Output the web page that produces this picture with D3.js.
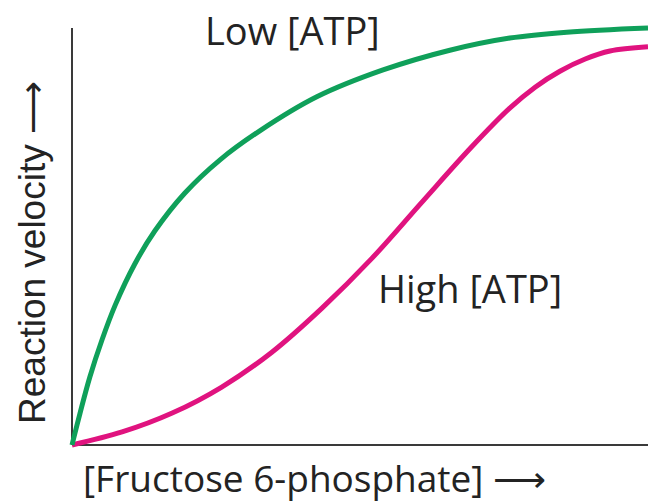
<!DOCTYPE html>
<html><head><meta charset="utf-8">
<script src="https://cdn.jsdelivr.net/npm/d3@7"></script>
<style>html,body{margin:0;padding:0;background:#fff;} svg{display:block;}</style>
</head><body>
<svg id="c" width="648" height="504"></svg>
<script>
// Substrate concentration (arbitrary units, 0-10) and relative velocity (0-1)
const lowX  = [0, 0.14, 0.31, 0.52, 0.75, 1.09, 1.44, 1.96, 2.57, 3.26, 4.25, 5.40, 6.56, 7.60, 8.59, 10];
const lowV  = [0, 0.076, 0.162, 0.25, 0.333, 0.431, 0.51, 0.60, 0.679, 0.748, 0.829, 0.893, 0.940, 0.969, 0.983, 0.993];
const highX = [0, 0.87, 1.74, 2.60, 3.47, 4.34, 5.21, 6.08, 6.94, 7.60, 8.04, 8.47, 8.91, 9.34, 10];
const highV = [0, 0.031, 0.076, 0.138, 0.221, 0.326, 0.445, 0.579, 0.710, 0.802, 0.852, 0.890, 0.919, 0.938, 0.948];
const seriesNames = ["Low [ATP]", "High [ATP]"];
const xLabel = "[Fructose 6-phosphate] \u27F6";
const yLabel = "Reaction velocity \u27F6";

const svg = d3.select("#c");
const x = d3.scaleLinear().domain([0, 10]).range([72, 648]);
const y = d3.scaleLinear().domain([0, 1]).range([445, 25]);

// axes
svg.append("line").attr("x1", x(0)).attr("x2", x(0)).attr("y1", 28).attr("y2", y(0))
  .attr("stroke", "#3a3a3a").attr("stroke-width", 2);
svg.append("line").attr("x1", x(0)).attr("x2", 648).attr("y1", y(0)).attr("y2", y(0))
  .attr("stroke", "#3a3a3a").attr("stroke-width", 2);

const line = d3.line().x(d => x(d[0])).y(d => y(d[1])).curve(d3.curveCatmullRom.alpha(0.5));
svg.append("path").datum(d3.zip(highX, highV)).attr("d", line)
  .attr("fill", "none").attr("stroke", "#e0137f").attr("stroke-width", 5);
svg.append("path").datum(d3.zip(lowX, lowV)).attr("d", line)
  .attr("fill", "none").attr("stroke", "#0fa05a").attr("stroke-width", 5);

const font = "'Open Sans', 'Liberation Sans', sans-serif";
svg.append("text").attr("x", 205).attr("y", 45).text(seriesNames[0])
  .attr("font-family", font).attr("font-size", 38).attr("fill", "#232323");
svg.append("text").attr("x", 378).attr("y", 303).text(seriesNames[1])
  .attr("font-family", font).attr("font-size", 38).attr("fill", "#232323");
svg.append("text").attr("x", 83).attr("y", 492).text(xLabel)
  .attr("font-family", font).attr("font-size", 37).attr("fill", "#232323");
svg.append("text").attr("transform", "translate(45,424) rotate(-90)").text(yLabel)
  .attr("font-family", "'Liberation Sans', Arial, sans-serif").attr("font-size", 37).attr("fill", "#232323");
</script>
</body></html>
